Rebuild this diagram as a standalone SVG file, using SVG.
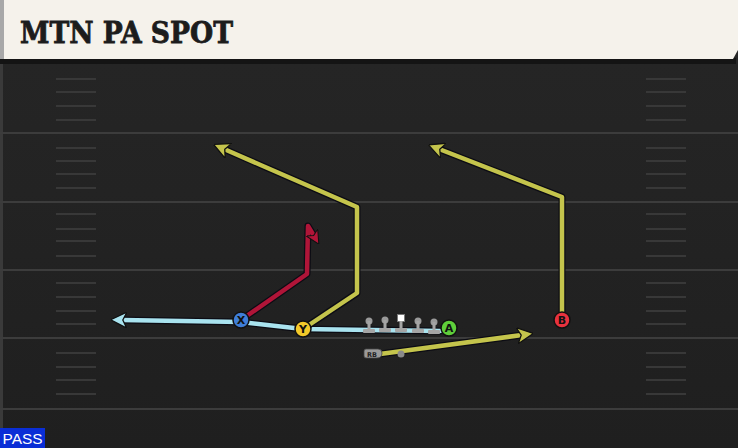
<svg xmlns="http://www.w3.org/2000/svg" width="738" height="448" viewBox="0 0 738 448">
<defs>
<style>
.yl{stroke:#3c3c3c;stroke-width:2;}
.hs{stroke:#383838;stroke-width:2;}
.out{fill:none;stroke:#0c0c14;stroke-width:7;stroke-linejoin:round;stroke-linecap:round;}
.rt{fill:none;stroke-width:4.5;stroke-linejoin:round;stroke-linecap:round;}
.pl{stroke:#111;stroke-width:1.5;}
.lbl{font-family:"DejaVu Sans",sans-serif;font-weight:bold;font-size:11px;text-anchor:middle;fill:#111;}
</style>
<marker id="ay" viewBox="0 0 10 10" refX="3" refY="5" markerWidth="3.6" markerHeight="3.6" orient="auto" markerUnits="strokeWidth">
<path d="M0,0 L10,5 L0,10 L2.5,5 Z" fill="#c4c44c" stroke="#111" stroke-width="0.8"/>
</marker>
<marker id="ab" viewBox="0 0 10 10" refX="3" refY="5" markerWidth="3.6" markerHeight="3.6" orient="auto" markerUnits="strokeWidth">
<path d="M0,0 L10,5 L0,10 L2.5,5 Z" fill="#a9e3ef" stroke="#111" stroke-width="0.8"/>
</marker>
<marker id="ar" viewBox="0 0 10 10" refX="3" refY="5" markerWidth="3" markerHeight="3" orient="auto" markerUnits="strokeWidth">
<path d="M0,0 L10,5 L0,10 L2.5,5 Z" fill="#b01538" stroke="#111" stroke-width="0.8"/>
</marker>
<linearGradient id="fg" x1="0" y1="0" x2="0" y2="1">
<stop offset="0" stop-color="#262626"/>
<stop offset="1" stop-color="#1f1f1f"/>
</linearGradient>
</defs>
<g id="field">
<rect x="0" y="0" width="738" height="448" fill="url(#fg)"/>
<rect x="0" y="60" width="3" height="388" fill="#3a3a3a"/>
<line class="yl" x1="0" y1="133" x2="738" y2="133"/>
<line class="yl" x1="0" y1="202" x2="738" y2="202"/>
<line class="yl" x1="0" y1="270" x2="738" y2="270"/>
<line class="yl" x1="0" y1="338" x2="738" y2="338"/>
<line class="yl" x1="0" y1="409" x2="738" y2="409"/>
<g id="hashes">
<path class="hs" d="M56,79H96M56,92H96M56,106H96M56,120H96M56,148H96M56,161H96M56,174H96M56,188H96M56,214H96M56,229H96M56,241H96M56,256H96M56,283H96M56,297H96M56,311H96M56,324H96M56,353H96M56,367H96M56,380H96M56,394H96"/>
<path class="hs" d="M646,79H686M646,92H686M646,106H686M646,120H686M646,148H686M646,161H686M646,174H686M646,188H686M646,214H686M646,229H686M646,241H686M646,256H686M646,283H686M646,297H686M646,311H686M646,324H686M646,353H686M646,367H686M646,380H686M646,394H686"/>
</g>
</g>
<g id="header">
<rect x="0" y="58" width="736" height="6" fill="#141414"/>
<path d="M0,0 H738 V50 L733,59 H0 Z" fill="#f5f2eb"/>
<rect x="0" y="0" width="4" height="59" fill="#a8a8a8"/>
<text x="20" y="43" font-family="'DejaVu Serif',serif" font-weight="bold" font-size="29" fill="#1c1c1c" stroke="#1c1c1c" stroke-width="0.8" textLength="213" lengthAdjust="spacingAndGlyphs">MTN PA SPOT</text>
</g>
<g id="connectors">
<path class="out" d="M440,331 L303,329 L241,322 L122,320"/>
<path class="rt" stroke="#a9e3ef" d="M440,331 L303,329 L241,322 L122,320" marker-end="url(#ab)"/>
<path class="out" d="M241,320 L307,274 L308,226 L314,236"/>
<path class="rt" stroke="#b01538" d="M241,320 L307,274 L308,226 L314,236" marker-end="url(#ar)"/>
<path class="out" d="M303,329 L357,293 L357,207 L224,149"/>
<path class="rt" stroke="#c4c44c" d="M303,329 L357,293 L357,207 L224,149" marker-end="url(#ay)"/>
<path class="out" d="M562,320 L562,197 L439,149"/>
<path class="rt" stroke="#c4c44c" d="M562,320 L562,197 L439,149" marker-end="url(#ay)"/>
<path class="out" d="M380,354 L522,335"/>
<path class="rt" stroke="#c4c44c" d="M380,354 L522,335" marker-end="url(#ay)"/>
</g>
<g id="ol">
<g id="lt"><circle cx="369" cy="321" r="3.5" fill="#9a9a9a"/><rect x="367.5" y="321" width="3" height="9" fill="#a5a5a5"/><rect x="363" y="329" width="12" height="4" rx="1" fill="#a5a5a5"/></g>
<g id="lg"><circle cx="385" cy="320" r="3.5" fill="#9a9a9a"/><rect x="383.5" y="320" width="3" height="9" fill="#a5a5a5"/><rect x="379" y="328" width="12" height="4" rx="1" fill="#a5a5a5"/></g>
<g id="c"><rect x="397.5" y="314.5" width="7" height="7" fill="#ffffff" stroke="#777" stroke-width="1"/><rect x="399.5" y="321" width="3" height="8" fill="#a5a5a5"/><rect x="395" y="328" width="12" height="4" rx="1" fill="#a5a5a5"/></g>
<g id="rg"><circle cx="418" cy="321" r="3.5" fill="#9a9a9a"/><rect x="416.5" y="321" width="3" height="9" fill="#a5a5a5"/><rect x="412" y="329" width="12" height="4" rx="1" fill="#a5a5a5"/></g>
<g id="rt"><circle cx="434" cy="322" r="3.5" fill="#9a9a9a"/><rect x="432.5" y="322" width="3" height="9" fill="#a5a5a5"/><rect x="428" y="330" width="12" height="4" rx="1" fill="#a5a5a5"/></g>
</g>
<g id="qb"><circle cx="401" cy="354" r="3.5" fill="#8a8a8a"/></g>
<g id="rb"><path d="M366,349 H378 Q382,349 382,353 Q382,358 377,358 H366 Q364,358 364,356 V351 Q364,349 366,349 Z" fill="#9a9a9a" stroke="#444" stroke-width="0.8"/><text x="372" y="356.5" font-family="'DejaVu Sans',sans-serif" font-weight="bold" font-size="6.5" text-anchor="middle" fill="#222">RB</text></g>
<g id="x"><circle class="pl" cx="241" cy="320" r="8" fill="#3f7ed8"/><text class="lbl" x="241" y="324">X</text></g>
<g id="y"><circle class="pl" cx="303" cy="329" r="8" fill="#f3c92a"/><text class="lbl" x="303" y="333">Y</text></g>
<g id="a"><circle class="pl" cx="449" cy="328" r="8" fill="#5fce3a"/><text class="lbl" x="449" y="332">A</text></g>
<g id="b"><circle class="pl" cx="562" cy="320" r="8" fill="#e8323e"/><text class="lbl" x="562" y="324">B</text></g>
<g id="pass">
<rect x="0" y="428" width="45" height="20" fill="#0a2ed6"/>
<text x="22.5" y="443.5" font-family="'Liberation Sans',Arial,sans-serif" font-size="15" text-anchor="middle" fill="#ffffff" textLength="40" lengthAdjust="spacingAndGlyphs">PASS</text>
</g>
</svg>
